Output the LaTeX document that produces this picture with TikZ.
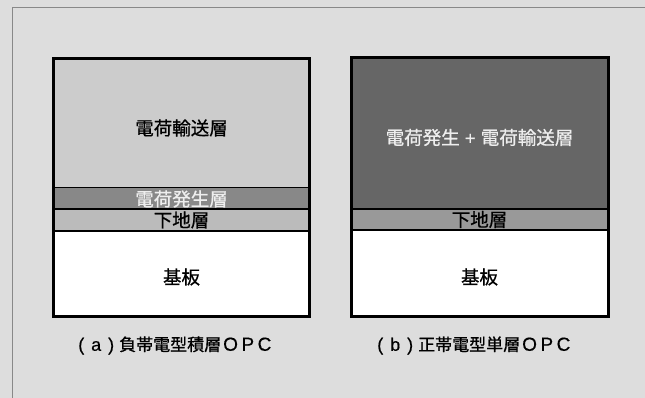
\documentclass[tikz,border=0pt]{standalone}
\usepackage{fontspec}
\setmainfont{Noto Sans CJK JP}[FakeBold=0.8]
\newfontfamily\latinfont{Liberation Sans}[FakeBold=0.4]
\definecolor{panel}{HTML}{DDDDDD}
\definecolor{panelline}{HTML}{888888}
\definecolor{ctl}{HTML}{CCCCCC}
\definecolor{cgl}{HTML}{888888}
\definecolor{ucl}{HTML}{BBBBBB}
\definecolor{single}{HTML}{666666}
\definecolor{ucr}{HTML}{999999}
\definecolor{lighttext}{HTML}{EEEEEE}
\newcommand{\opcword}{\hspace{2pt}{\fontsize{19}{20}\selectfont\latinfont O\hspace{3.5pt}P\hspace{3.5pt}C}}
\newcommand{\capletter}[1]{{\fontsize{18}{20}\selectfont\latinfont(\hspace{7pt}#1\hspace{7pt})}\hspace{5pt}}
\tikzset{
  layerlabel/.style={inner sep=0pt, font=\fontsize{18.5}{20}\selectfont},
  caption/.style={inner sep=0pt, anchor=west, font=\fontsize{17}{19}\selectfont},
  divider/.style={line width=1.5pt, black},
}
\begin{document}
\begin{tikzpicture}[x=1pt,y=-1pt]
\useasboundingbox (0,0) rectangle (645,398);
% panel
\fill[panel] (0,0) rectangle (645,398);
\draw[panelline, line width=1pt] (12.5,398) -- (12.5,7.5) -- (645,7.5);
% ---- left stack (a)
\fill[ctl] (53.5,58.5) rectangle (309.5,187.3);
\fill[cgl] (53.5,187.3) rectangle (309.5,209);
\fill[ucl] (53.5,209) rectangle (309.5,231);
\fill[white] (53.5,231) rectangle (309.5,316.5);
\draw[divider] (53.5,187.3) -- (309.5,187.3);
\draw[divider] (53.5,209) -- (309.5,209);
\draw[divider] (53.5,231) -- (309.5,231);
\draw[black, line width=2.2pt] (53.5,58.5) rectangle (309.5,316.5);
\node[layerlabel] (ctlA) at (181.5,128) {電荷輸送層};
\node[layerlabel, text=lighttext] (cglA) at (181.5,199) {電荷発生層};
\node[layerlabel] (ucA) at (181.5,220) {下地層};
\node[layerlabel] (subA) at (181.5,277) {基板};
\node[caption] (capA) at (78,345.5) {\capletter{a}負帯電型積層\opcword};
% ---- right stack (b)
\fill[single] (351,57.7) rectangle (608,209);
\fill[ucr] (351,209) rectangle (608,230);
\fill[white] (351,230) rectangle (608,316);
\draw[divider] (351,209) -- (608,209);
\draw[divider] (351,230) -- (608,230);
\draw[black, line width=3pt] (351,57.7) rectangle (608,316);
\node[layerlabel, text=lighttext] (slB) at (479.5,137.5) {電荷発生{\latinfont\ +\ }電荷輸送層};
\node[layerlabel] (ucB) at (479.5,219.5) {下地層};
\node[layerlabel] (subB) at (479.5,277) {基板};
\node[caption] (capB) at (377,345.5) {\capletter{b}正帯電型単層\opcword};
\end{tikzpicture}
\end{document}
